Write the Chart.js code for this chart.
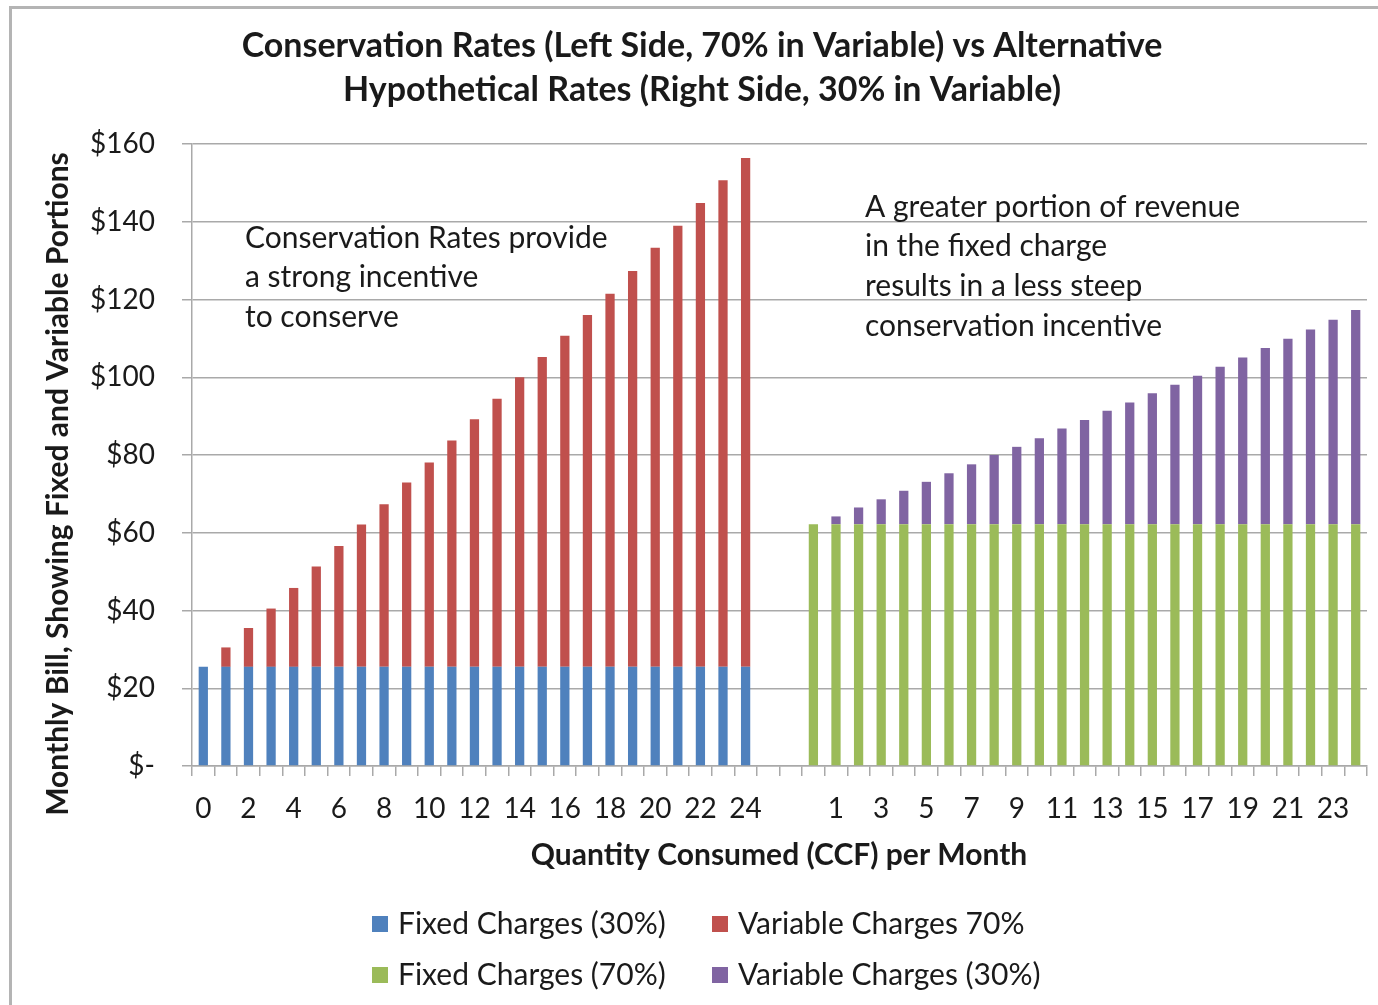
<!DOCTYPE html>
<html>
<head>
<meta charset="utf-8">
<script src="https://cdn.jsdelivr.net/npm/chart.js@4.4.1/dist/chart.umd.min.js"></script>
<style>
  html, body { margin: 0; padding: 0; background: #fff; }
  #wrap { position: relative; width: 1378px; height: 1005px; }
</style>
</head>
<body>
<div id="wrap"><canvas id="bill-chart"></canvas></div>
<script>
// quantity consumed (CCF) for each side
const leftQty = [0, 1, 2, 3, 4, 5, 6, 7, 8, 9, 10, 11, 12, 13, 14, 15, 16, 17, 18, 19, 20, 21, 22, 23, 24];
const rightQty = [0, 1, 2, 3, 4, 5, 6, 7, 8, 9, 10, 11, 12, 13, 14, 15, 16, 17, 18, 19, 20, 21, 22, 23, 24];

// conservation rates (left side, 70% in variable)
const leftFixed = [25.5, 25.5, 25.5, 25.5, 25.5, 25.5, 25.5, 25.5, 25.5, 25.5, 25.5, 25.5, 25.5,
                   25.5, 25.5, 25.5, 25.5, 25.5, 25.5, 25.5, 25.5, 25.5, 25.5, 25.5, 25.5];
const leftVariable = [0, 5, 10, 15, 20.3, 25.8, 31.1, 36.6, 41.8, 47.4, 52.6, 58.2, 63.7,
                      69, 74.5, 79.7, 85.2, 90.5, 96, 101.8, 107.8, 113.5, 119.3, 125.2, 130.9];

// alternative hypothetical rates (right side, 30% in variable)
const rightFixed = [62.2, 62.2, 62.2, 62.2, 62.2, 62.2, 62.2, 62.2, 62.2, 62.2, 62.2, 62.2, 62.2,
                    62.2, 62.2, 62.2, 62.2, 62.2, 62.2, 62.2, 62.2, 62.2, 62.2, 62.2, 62.2];
const rightVariable = [0, 2, 4.3, 6.4, 8.6, 10.9, 13.1, 15.4, 17.8, 19.9, 22.1, 24.6, 26.8,
                       29.2, 31.3, 33.7, 35.9, 38.2, 40.5, 42.9, 45.3, 47.7, 50.1, 52.6, 55.1];

const seriesNames = ['Fixed Charges (30%)', 'Variable Charges 70%', 'Fixed Charges (70%)', 'Variable Charges (30%)'];
const seriesColors = ['#4F81BD', '#C0504D', '#9BBB59', '#8064A2'];

const yTicks = [0, 20, 40, 60, 80, 100, 120, 140, 160];

// two empty slots between the left and right groups
const gap = ['', ''];
const labels = leftQty.concat(gap, rightQty);
const blankLeft = leftQty.map(() => null);
const blankGap = gap.map(() => null);
const blankRight = rightQty.map(() => null);

function onLeft(arr) { return arr.concat(blankGap, blankRight); }
function onRight(arr) { return blankLeft.concat(blankGap, arr); }

const FONT = 'Lato, "Open Sans", sans-serif';
const TEXT = '#1a1a1a';
const GRID = '#a9a9a9';

const extras = {
    id: 'extras',
    beforeDraw(chart) {
        const ctx = chart.ctx;
        ctx.save();
        ctx.fillStyle = '#fff';
        ctx.fillRect(0, 0, chart.width, chart.height);
        // frame round the chart
        ctx.strokeStyle = '#b4b4b4';
        ctx.lineWidth = 3;
        ctx.strokeRect(10.5, 7.5, chart.width + 20, chart.height + 20);
        ctx.restore();
    },
    afterDraw(chart) {
        const ctx = chart.ctx;
        ctx.save();
        ctx.fillStyle = TEXT;
        ctx.textBaseline = 'middle';

        // title
        ctx.font = 'bold 34px ' + FONT;
        ctx.textAlign = 'center';
        ctx.fillText('Conservation Rates (Left Side, 70% in Variable) vs Alternative', 702, 46);
        ctx.fillText('Hypothetical Rates (Right Side, 30% in Variable)', 702, 90);

        // axis titles
        ctx.font = 'bold 30px ' + FONT;
        ctx.fillText('Quantity Consumed (CCF) per Month', 779, 855);
        ctx.save();
        ctx.translate(58, 484);
        ctx.rotate(-Math.PI / 2);
        ctx.fillText('Monthly Bill, Showing Fixed and Variable Portions', 0, 0);
        ctx.restore();

        // text boxes
        ctx.font = '30px ' + FONT;
        ctx.textAlign = 'left';
        ['Conservation Rates provide', 'a strong incentive', 'to conserve'].forEach((t, i) => {
            ctx.fillText(t, 245, 238 + i * 39.5);
        });
        ['A greater portion of revenue', 'in the fixed charge', 'results in a less steep', 'conservation incentive'].forEach((t, i) => {
            ctx.fillText(t, 865, 207 + i * 39.7);
        });

        // legend, two rows by two columns
        ctx.font = '30px ' + FONT;
        const cols = [372, 712];
        const rows = [924, 975];
        chart.data.datasets.forEach((ds, i) => {
            const x = cols[i % 2];
            const y = rows[Math.floor(i / 2)];
            ctx.fillStyle = ds.backgroundColor;
            ctx.fillRect(x, y - 8, 16, 16);
            ctx.fillStyle = TEXT;
            ctx.fillText(ds.label, x + 26, y);
        });
        ctx.restore();
    }
};

const ctx = document.getElementById('bill-chart').getContext('2d');
new Chart(ctx, {
    type: 'bar',
    data: {
        labels: labels,
        datasets: [
            { label: seriesNames[0], data: onLeft(leftFixed), backgroundColor: seriesColors[0] },
            { label: seriesNames[1], data: onLeft(leftVariable), backgroundColor: seriesColors[1] },
            { label: seriesNames[2], data: onRight(rightFixed), backgroundColor: seriesColors[2] },
            { label: seriesNames[3], data: onRight(rightVariable), backgroundColor: seriesColors[3] }
        ]
    },
    options: {
        responsive: true,
        maintainAspectRatio: false,
        animation: false,
        layout: { padding: { left: 0, top: 144, right: 11, bottom: 0 } },
        datasets: {
            bar: { categoryPercentage: 1, barPercentage: 0.41 }
        },
        plugins: {
            legend: { display: false },
            title: { display: false },
            tooltip: { enabled: false }
        },
        scales: {
            x: {
                stacked: true,
                afterFit: (scale) => { scale.height = 239; },
                grid: {
                    offset: true,
                    drawOnChartArea: false,
                    drawTicks: true,
                    tickLength: 10,
                    color: GRID,
                    lineWidth: 1.5
                },
                border: { color: GRID, width: 1.5 },
                ticks: {
                    autoSkip: false,
                    maxRotation: 0,
                    padding: 16,
                    color: TEXT,
                    font: { family: FONT, size: 28 },
                    callback: function(value, index) {
                        return index % 2 === 0 ? this.getLabelForValue(value) : '';
                    }
                }
            },
            y: {
                stacked: true,
                min: 0,
                max: 160,
                afterFit: (scale) => { scale.width = 192; },
                afterBuildTicks: (scale) => { scale.ticks = yTicks.map(v => ({ value: v })); },
                grid: { color: GRID, lineWidth: 1.5, tickLength: 10 },
                border: { color: GRID, width: 1.5 },
                ticks: {
                    padding: 27,
                    color: TEXT,
                    font: { family: FONT, size: 28 },
                    callback: (v) => v === 0 ? '$-' : '$' + v
                }
            }
        }
    },
    plugins: [extras]
});
</script>
</body>
</html>
